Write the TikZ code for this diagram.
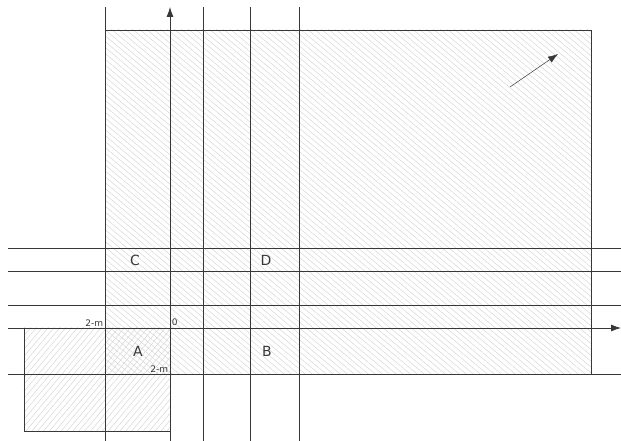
\documentclass[tikz,border=0pt]{standalone}
\usepackage{fontspec}
\setmainfont{DejaVu Sans}
\usetikzlibrary{arrows.meta,patterns.meta}

\tikzset{
  region/.style={font=\fontsize{14}{16}\selectfont},
  tick/.style={font=\fontsize{9}{10}\selectfont,inner sep=1.5pt},
  hatchbig/.style={pattern={Lines[angle=-40,distance=4.5pt,line width=0.5pt]},pattern color=black!16},
  hatchsmall/.style={pattern={Lines[angle=50,distance=4.5pt,line width=0.5pt]},pattern color=black!16}
}

\begin{document}
\begin{tikzpicture}[x=1pt,y=1pt,>={Latex[length=10pt,width=7pt]},line width=0.8pt,color=black!78]
    \useasboundingbox (-170,-113) rectangle (451,328);
    % hatched areas
    \fill[hatchbig] (-65,-46) rectangle (421,298);
    \fill[hatchsmall] (-146,-103) rectangle (0,0);
    \draw (-65,-46) rectangle (421,298);
    \draw (-146,-103) rectangle (0,0);
    % grid lines
    \foreach \x in {-65,33,80,129}{\draw (\x,-113) -- (\x,321);}
    \foreach \y in {-46,23,57,80}{\draw (-162,\y) -- (451,\y);}
    % axes
    \draw[->] (-162,0) -- (451,0);
    \draw[->] (0,-113) -- (0,321);
    \draw[->,line width=0.5pt] (340,241) -- (388,274);
    % labels
    \node[region] (C) at (-35,68) {C};
    \node[region] (D) at (96,68) {D};
    \node[region] (A) at (-32,-23) {A};
    \node[region] (B) at (97,-23) {B};
    \node[tick,above left] (m1) at (-65,0) {2-m};
    \node[tick,above right] (o) at (0,0) {0};
    \node[tick,above left] (m2) at (0,-46) {2-m};
\end{tikzpicture}
\end{document}
